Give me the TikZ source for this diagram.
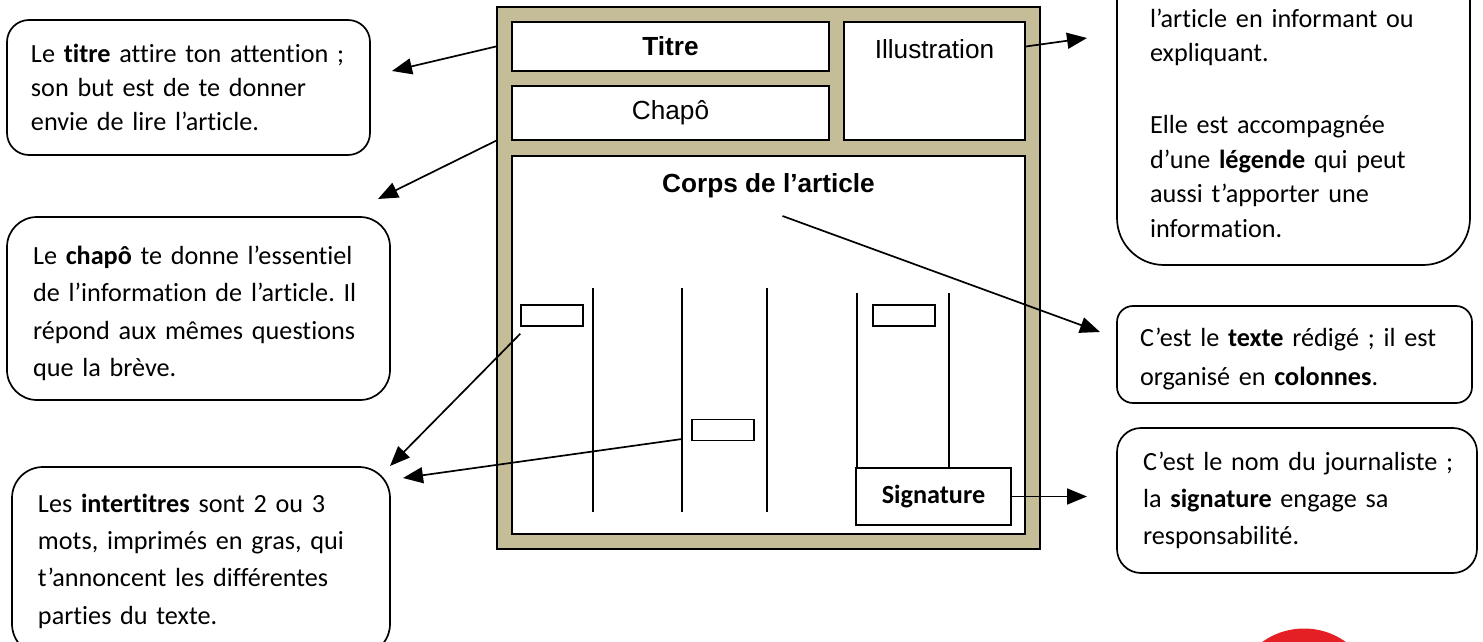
\documentclass[tikz,border=0pt]{standalone}
\usepackage{fontspec}
\newfontfamily\calibri[Ligatures=NoCommon]{Carlito}
\newfontfamily\arial{Liberation Sans}
\usetikzlibrary{arrows.meta, positioning, calc}
\definecolor{pagetan}{RGB}{196,189,151}
\definecolor{logored}{RGB}{228,32,36}

\begin{document}
\begin{tikzpicture}[x=0.5pt, y=-0.5pt, >={Triangle[length=10pt,width=8pt]},
    callout/.style={draw, line width=0.85pt, align=left, inner sep=0pt, font=\calibri\frenchspacing\fontsize{13.1pt}{18.65pt}\selectfont},
    piece/.style={draw, fill=white, line width=0.75pt, inner sep=0pt, font=\arial\fontsize{13.1pt}{15pt}\selectfont},
    ititre/.style={draw, fill=white, line width=0.65pt, minimum width=31pt, minimum height=10.5pt, inner sep=0pt},
    col/.style={line width=0.6pt},
    pointer/.style={->, line width=0.85pt}]

\useasboundingbox (0,0) rectangle (1483,642);
\clip (0,0) rectangle (1483,642);

% Page of the newspaper
\node[draw, fill=pagetan, line width=1pt, minimum width=271.5pt, minimum height=271pt] (frame) at (768.5,278) {};
\node[piece, minimum width=158.5pt, minimum height=24.5pt] (titre) at (670.5,46.5) {\bfseries Titre};
\node[piece, minimum width=158.5pt, minimum height=27pt] (chapo) at (670.5,113) {Chapô};
\node[piece, minimum width=90.5pt, minimum height=59pt] (illu) at (934.5,81) {};
\node[piece, draw=none, fill=none, anchor=north, below=9pt of illu.north] (illutext) {Illustration};
\node[piece, minimum width=256.5pt, minimum height=189pt] (corps) at (768.5,345) {};
\node[piece, draw=none, fill=none, anchor=north, below=9pt of corps.north] (corpstext) {\bfseries Corps de l’article};

% Columns, intertitles and signature
\node[piece, font=\calibri\fontsize{13.1pt}{15pt}\selectfont, minimum width=77.5pt, minimum height=28.5pt] (sign) at (933.5,496.5) {\bfseries Signature};
\foreach \cx in {593,682,767}
    \draw[col] (\cx,287.5) -- (\cx,512);
\foreach \cx in {857,949}
    \draw[col] (\cx,293) -- (\cx,468);
\node[ititre] (itA) at (552,315.5) {};
\node[ititre] (itB) at (904,315.5) {};
\node[ititre] (itC) at (723,430) {};

% Explanations on the left
\node[callout, rounded corners=11pt, minimum width=181.5pt, minimum height=67.5pt, text width=157.5pt, font=\calibri\frenchspacing\fontsize{13.1pt}{17.2pt}\selectfont] (cTitre) at (188.5,87.5) {Le \textbf{titre} attire ton attention ;\\son but est de te donner\\envie de lire l’article.};
\node[callout, rounded corners=15pt, minimum width=191.5pt, minimum height=91.5pt, text width=165.5pt] (cChapo) at (198.5,308.5) {\rule{0pt}{14pt}Le \textbf{chapô} te donne l’essentiel\\de l’information de l’article. Il\\répond aux mêmes questions\\que la brève.};
\node[callout, rounded corners=15.5pt, minimum width=189pt, minimum height=94pt, text width=163pt] (cInter) at (201,561) {Les \textbf{intertitres} sont 2 ou 3\\mots, imprimés en gras, qui\\t’annoncent les différentes\\parties du texte.};

% Explanations on the right
\node[callout, rounded corners=23.5pt, minimum width=176.5pt, minimum height=162.5pt, text width=143.5pt, font=\calibri\frenchspacing\fontsize{13.1pt}{17.2pt}\selectfont] (cIllu) at (1293.5,102.5) {\rule{0pt}{30pt}l’article en informant ou\\expliquant.\\[18.8pt]Elle est accompagnée\\d’une \textbf{légende} qui peut\\aussi t’apporter une\\information.};
\node[callout, rounded corners=8pt, minimum width=177.5pt, minimum height=48.5pt, text width=154.5pt, font=\calibri\frenchspacing\fontsize{13.1pt}{19.5pt}\selectfont] (cTexte) at (1294.5,354.5) {\rule{0pt}{13.5pt}C’est le \textbf{texte} rédigé ; il est\\organisé en \textbf{colonnes}.};
\node[callout, rounded corners=12pt, minimum width=180pt, minimum height=72.5pt, text width=154pt] (cSign) at (1297,500.5) {\mbox{C’est le nom du journaliste ;}\\la \textbf{signature} engage sa\\responsabilité.};

% Arrows
\coordinate (tipTitre) at (392,71);
\coordinate (tipChapo) at (378,199);
\coordinate (tipInterA) at (390,466);
\coordinate (onColB) at (682,439);
\coordinate (tipInterB) at (403,478);
\coordinate (fromCorps) at (782.5,216);
\coordinate (tipTexte) at (1100,332);
\coordinate (tipIllu) at (1087,38);
\draw[pointer] (frame.west |- titre.west) -- (tipTitre);
\draw[pointer] (frame.west |- chapo.south) -- (tipChapo);
\draw[pointer] ([yshift=-3.5pt]itA.south west) -- (tipInterA);
\draw[pointer] (onColB) -- (tipInterB);
\draw[pointer] (fromCorps) -- (tipTexte);
\draw[pointer] (illu.east |- titre.east) -- (tipIllu);
\draw[pointer] (sign.east) -- (sign.east -| tipIllu);

% Logo
\fill[logored] (1304,700) circle[radius=35.75pt];
\end{tikzpicture}
\end{document}
